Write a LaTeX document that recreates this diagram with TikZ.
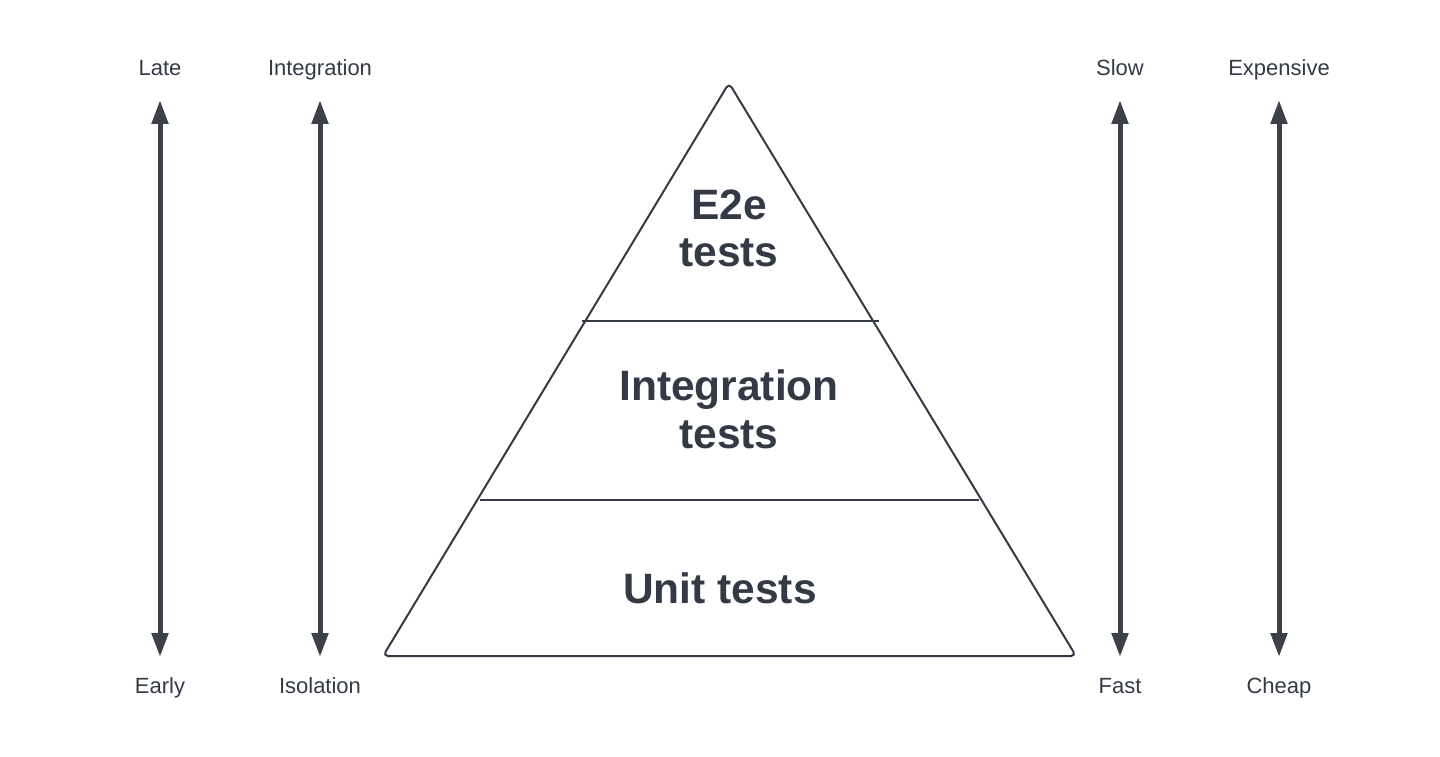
\documentclass[tikz,border=0pt]{standalone}
\usepackage{fontspec}
\setmainfont{Liberation Sans}
\usetikzlibrary{arrows.meta}
\definecolor{ink}{HTML}{343A45}
\definecolor{arr}{HTML}{3B404B}
\begin{document}
\begin{tikzpicture}[x=1pt,y=-1pt,
  lbl/.style={text=ink,font=\fontsize{22}{26}\selectfont,inner sep=0pt,anchor=base},
  big/.style={text=ink,font=\fontsize{42.5}{50}\selectfont\bfseries,inner sep=0pt,align=center},
  axis/.style={draw=arr,line width=5pt,{Triangle[width=16pt,length=24pt]}-{Triangle[width=16pt,length=24pt]}},
  edge/.style={draw=ink,line width=2pt}]
\useasboundingbox (0,0) rectangle (1440,757);
% triangle
\coordinate (apex) at (729,83);
\coordinate (bl) at (383,656);
\coordinate (br) at (1076,656);
\draw[edge,rounded corners=5pt,line join=round] (apex) -- (br) -- (bl) -- cycle;
\coordinate (l1a) at (582,321);
\coordinate (l1b) at (879,321);
\coordinate (l2a) at (480,500);
\coordinate (l2b) at (979,500);
\draw[edge] (l1a) -- (l1b);
\draw[edge] (l2a) -- (l2b);
\node[big] (e2e) at (729,228) {E2e\\[-3pt]tests};
\node[big] (integ) at (729,409) {Integration\\[-2pt]tests};
\node[big] (unit) at (720,588) {Unit tests};
% axes
\foreach \n/\x/\t/\b in {a/160/Late/Early, b/320/Integration/Isolation, c/1120/Slow/Fast, d/1279/Expensive/Cheap}{
  \node[lbl] (\n top) at (\x,76) {\t};
  \node[lbl] (\n bot) at (\x,693) {\b};
  \coordinate (\n s) at (\x,100);
  \coordinate (\n e) at (\x,657);
  \draw[axis] (\n s) -- (\n e);
}
\end{tikzpicture}
\end{document}
